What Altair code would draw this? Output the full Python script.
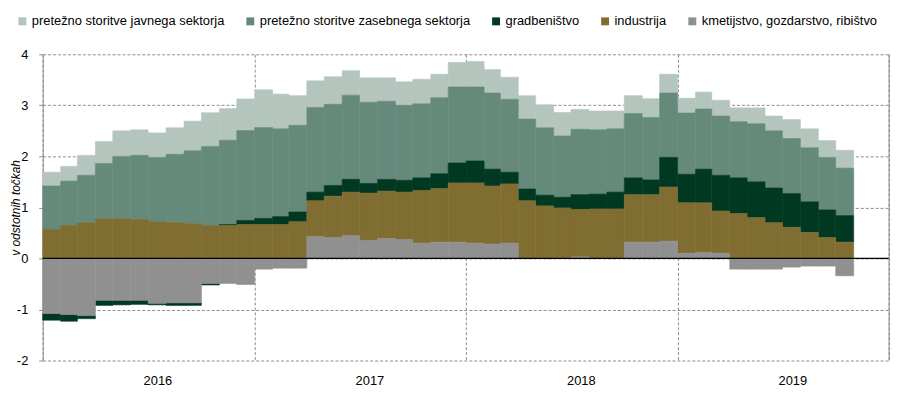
import altair as alt
import pandas as pd

# Monthly contributions (percentage points), Jan 2016 - Oct 2019
months = pd.date_range("2016-01-01", periods=46, freq="MS")

kmetijstvo = [
    -1.08, -1.10, -1.12, -0.82, -0.82, -0.82, -0.88, -0.87, -0.87, -0.49, -0.49, -0.51,
    -0.21, -0.19, -0.19, 0.43, 0.41, 0.45, 0.35, 0.39, 0.37, 0.30, 0.32, 0.32,
    0.30, 0.28, 0.30, 0.00, 0.00, 0.00, 0.03, 0.00, 0.00, 0.32, 0.32, 0.34,
    0.10, 0.12, 0.10, -0.21, -0.21, -0.21, -0.17, -0.15, -0.15, -0.34,
]
industrija = [
    0.57, 0.645, 0.70, 0.78, 0.78, 0.76, 0.72, 0.70, 0.68, 0.645, 0.645, 0.665,
    0.665, 0.665, 0.72, 0.70, 0.81, 0.85, 0.93, 0.93, 0.93, 1.03, 1.05, 1.16,
    1.18, 1.14, 1.16, 1.13, 1.03, 0.99, 0.93, 0.97, 0.97, 0.93, 0.93, 1.06,
    0.99, 0.97, 0.83, 0.88, 0.80, 0.70, 0.61, 0.51, 0.41, 0.32,
]
gradbenistvo = [
    -0.13, -0.13, -0.06, -0.10, -0.09, -0.08, -0.03, -0.05, -0.05, -0.03, 0.02, 0.08,
    0.12, 0.155, 0.19, 0.17, 0.21, 0.25, 0.19, 0.23, 0.23, 0.25, 0.29, 0.39,
    0.43, 0.33, 0.23, 0.23, 0.21, 0.21, 0.29, 0.29, 0.33, 0.33, 0.29, 0.58,
    0.56, 0.66, 0.70, 0.70, 0.70, 0.68, 0.66, 0.60, 0.54, 0.52,
]
zasebni = [
    0.85, 0.87, 0.93, 1.08, 1.22, 1.26, 1.26, 1.34, 1.43, 1.55, 1.65, 1.76,
    1.78, 1.72, 1.70, 1.66, 1.59, 1.65, 1.59, 1.53, 1.47, 1.45, 1.49, 1.49,
    1.45, 1.49, 1.43, 1.37, 1.32, 1.20, 1.28, 1.26, 1.24, 1.26, 1.22, 1.26,
    1.20, 1.18, 1.16, 1.10, 1.14, 1.12, 1.08, 1.06, 1.03, 0.93,
]
javni = [
    0.27, 0.29, 0.39, 0.43, 0.50, 0.50, 0.48, 0.52, 0.58, 0.66, 0.62, 0.62,
    0.74, 0.68, 0.58, 0.52, 0.54, 0.48, 0.48, 0.46, 0.46, 0.48, 0.46, 0.48,
    0.50, 0.46, 0.43, 0.46, 0.45, 0.46, 0.39, 0.37, 0.35, 0.35, 0.37, 0.37,
    0.29, 0.33, 0.31, 0.27, 0.31, 0.29, 0.37, 0.37, 0.33, 0.35,
]

series_names = [
    "pretežno storitve javnega sektorja",
    "pretežno storitve zasebnega sektorja",
    "gradbeništvo",
    "industrija",
    "kmetijstvo, gozdarstvo, ribištvo",
]
series_values = [javni, zasebni, gradbenistvo, industrija, kmetijstvo]
series_colors = ["#b4c5bd", "#658a7b", "#003822", "#806d31", "#909090"]
stack_order = [4, 3, 2, 1, 0]

rows = []
for name, vals, order in zip(series_names, series_values, stack_order):
    for i, v in enumerate(vals):
        start = months[i]
        end = start + pd.offsets.MonthBegin(1)
        rows.append({"start": start, "end": end, "sektor": name, "value": v, "ord": order})
df = pd.DataFrame(rows)

W, H = 854, 309
FONT = "Liberation Sans"

x_scale = alt.Scale(domain=[alt.DateTime(year=2016, month=1, date=1),
                            alt.DateTime(year=2020, month=1, date=1)])
y_scale = alt.Scale(domain=[-2, 4], nice=False, zero=False)
color_scale = alt.Scale(domain=series_names, range=series_colors)

bars = alt.Chart(df).transform_stack(
    stack="value", as_=["v0", "v1"], groupby=["start"],
    sort=[alt.SortField("ord", order="ascending")], offset="zero",
).mark_bar(strokeWidth=0.6).encode(
    x=alt.X("start:T", scale=x_scale, title=None,
            axis=alt.Axis(values=[alt.DateTime(year=y, month=1, date=1) for y in range(2016, 2021)],
                          labelExpr="year(datum.value) < 2020 ? timeFormat(datum.value, '%Y') : ''",
                          labelOffset=W / 8 + 9, labelFlush=False, labelOverlap=False,
                          labelAlign="center", labelPadding=14, labelFontSize=13,
                          labelColor="#000", domain=False, ticks=False,
                          grid=True, gridDash=[3, 2], gridColor="#8c8c8c", gridWidth=1)),
    x2="end:T",
    y=alt.Y("v0:Q", scale=y_scale,
            title="v odstotnih točkah",
            axis=alt.Axis(values=[-2, -1, 0, 1, 2, 3, 4],
                          labelExpr="datum.value + ''",
                          labelFontSize=13, labelColor="#000", labelPadding=11,
                          tickSize=4, tickColor="#8c8c8c", domainColor="#8c8c8c",
                          grid=True, gridDash=[3, 2], gridColor="#8c8c8c", gridWidth=1,
                          titleFontStyle="italic", titleFontWeight="normal",
                          titleFontSize=12, titleColor="#000",
                          titleX=-20, titleY=H / 2, titleAngle=270,
                          titleAlign="center", titleBaseline="bottom")),
    y2="v1:Q",
    color=alt.Color("sektor:N", scale=color_scale,
                    legend=alt.Legend(title=None, orient="none", direction="horizontal",
                                      legendX=-27, legendY=-40, symbolType="square",
                                      symbolSize=64, symbolStrokeWidth=0,
                                      labelFontSize=13, labelColor="#000",
                                      labelLimit=400, columnPadding=19,
                                      symbolOffset=0, labelOffset=3)),
    stroke=alt.Stroke("sektor:N", scale=color_scale, legend=None),
)

zero_df = pd.DataFrame({"v0": [0]})
zero_line = alt.Chart(zero_df).mark_rule(color="#000", strokeWidth=1.2).encode(
    y=alt.Y("v0:Q", scale=y_scale)
)

right_edge = alt.Chart(zero_df).mark_rule(color="#8c8c8c", strokeWidth=1).encode(
    x=alt.value(W), y=alt.value(0), y2=alt.value(H)
)

chart = alt.layer(bars, zero_line, right_edge).properties(
    width=W, height=H,
    autosize=alt.AutoSizeParams(type="none"),
    padding={"left": 35, "top": 45, "right": 3, "bottom": 26},
).configure(font=FONT).configure_view(stroke=None)

chart.save("out.html", embed_options={"renderer": "svg", "actions": False})
